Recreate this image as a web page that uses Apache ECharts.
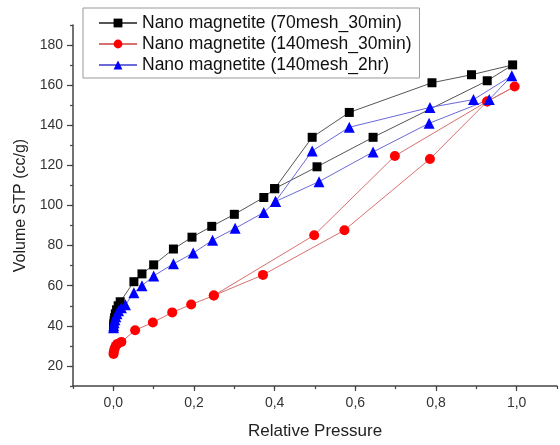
<!DOCTYPE html>
<html>
<head>
<meta charset="utf-8">
<script src="https://cdn.jsdelivr.net/npm/echarts@6/dist/echarts.min.js"></script>
<style>
html,body{margin:0;padding:0;background:#fff;}
#c{width:560px;height:445px;}
</style>
</head>
<body>
<div id="c"></div>
<script>
// Series names
const seriesNames = [
  'Nano magnetite (70mesh_30min)',
  'Nano magnetite (140mesh_30min)',
  'Nano magnetite (140mesh_2hr)'
];
// Major tick values
const xMajorTicks = [0, 0.2, 0.4, 0.6, 0.8, 1.0];
const yMajorTicks = [20, 40, 60, 80, 100, 120, 140, 160, 180];
// Nano magnetite (70mesh_30min): adsorption then desorption
const blackX = [0.0005,0.001,0.002,0.003,0.005,0.008,0.012,0.017,0.051,0.071,0.1,0.149,0.195,0.244,0.3,0.373,0.4,0.505,0.644,0.927,0.99,0.888,0.79,0.585,0.493,0.4];
const blackY = [39.5,41,42.5,44,46,48,50,52,62,65.9,70.4,78.3,84.2,89.6,95.6,104,108.4,119.3,134,162.2,170.1,165.2,161.2,146.4,134,108.4];
// Nano magnetite (140mesh_30min)
const redX = [0.0005,0.001,0.003,0.006,0.01,0.02,0.054,0.098,0.146,0.193,0.249,0.371,0.573,0.785,0.927,0.995,0.927,0.698,0.498,0.249];
const redY = [26,27,28.5,30,31,32,37.8,41.7,46.7,50.6,55.1,65.4,87.7,123.2,151.9,159.3,151.9,124.7,85.2,55.1];
// Nano magnetite (140mesh_2hr)
const blueX = [0.0005,0.001,0.002,0.004,0.006,0.009,0.013,0.02,0.03,0.051,0.071,0.1,0.149,0.198,0.246,0.302,0.373,0.402,0.51,0.644,0.783,0.932,0.988,0.893,0.785,0.585,0.493,0.402];
const blueY = [39,40,41.5,43,44.5,46,47.5,49,50.5,56.5,60,64.9,70.9,76.3,82.7,88.6,96.5,102,111.9,126.7,141,152.8,164.7,152.8,148.9,139,127.2,102];

const pairs = (xs, ys) => xs.map((x, i) => [x, ys[i]]);
const font = '"Liberation Sans", Arial, sans-serif';
const axisColor = '#444';

const chart = echarts.init(document.getElementById('c'), null, {renderer: 'canvas'});
chart.setOption({
  animation: false,
  backgroundColor: '#fff',
  grid: {left: 73, right: -4, top: 25, bottom: 54, containLabel: false},
  legend: {
    orient: 'vertical',
    left: 83, top: 8,
    padding: [6, 8, 4, 15],
    itemWidth: 38, itemHeight: 11, itemGap: 3,
    borderColor: '#999', borderWidth: 1,
    textStyle: {fontFamily: font, fontSize: 17.5, lineHeight: 17, color: '#111'},
    data: seriesNames
  },
  xAxis: [
    {
      type: 'value', min: -0.1, max: 1.1, interval: 0.1,
      name: 'Relative Pressure', nameLocation: 'middle', nameGap: 37,
      nameTextStyle: {fontFamily: font, fontSize: 17, color: '#222'},
      axisLine: {show: true, onZero: false, lineStyle: {color: axisColor, width: 1.5}},
      axisTick: {show: true, inside: false, length: 3, lineStyle: {color: axisColor, width: 1.2}},
      axisLabel: {
        fontFamily: font, fontSize: 14, color: '#333', margin: 10,
        formatter: v => {
          const k = Math.round(v * 10);
          if (k < 0 || k % 2 !== 0) return '';
          return (k / 10).toFixed(1).replace('.', ',');
        }
      },
      splitLine: {show: false}
    },
    {
      type: 'value', min: -0.1, max: 1.1, position: 'bottom',
      axisLine: {show: false, onZero: false},
      axisTick: {show: true, inside: false, length: 5, customValues: xMajorTicks, lineStyle: {color: axisColor, width: 1.2}},
      axisLabel: {show: false},
      splitLine: {show: false}
    }
  ],
  yAxis: [
    {
      type: 'value', min: 10, max: 190, interval: 10,
      name: 'Volume STP (cc/g)', nameLocation: 'middle', nameGap: 44,
      nameTextStyle: {fontFamily: font, fontSize: 16, color: '#222'},
      axisLine: {show: true, onZero: false, lineStyle: {color: axisColor, width: 1.5}},
      axisTick: {show: true, inside: false, length: 3, lineStyle: {color: axisColor, width: 1.2}},
      axisLabel: {
        fontFamily: font, fontSize: 14, color: '#333', margin: 10,
        formatter: v => (Math.round(v) % 20 === 0 && v < 190) ? String(Math.round(v)) : ''
      },
      splitLine: {show: false}
    },
    {
      type: 'value', min: 10, max: 190, position: 'left',
      axisLine: {show: false, onZero: false},
      axisTick: {show: true, inside: false, length: 6, customValues: yMajorTicks, lineStyle: {color: axisColor, width: 1.2}},
      axisLabel: {show: false},
      splitLine: {show: false}
    }
  ],
  series: [
    {
      name: seriesNames[0], type: 'line', data: pairs(blackX, blackY),
      symbol: 'rect', symbolSize: 9,
      itemStyle: {color: '#000'},
      lineStyle: {color: '#555', width: 1}
    },
    {
      name: seriesNames[1], type: 'line', data: pairs(redX, redY),
      symbol: 'circle', symbolSize: 10,
      itemStyle: {color: '#ff0000'},
      lineStyle: {color: '#d87070', width: 1}
    },
    {
      name: seriesNames[2], type: 'line', data: pairs(blueX, blueY),
      symbol: 'triangle', symbolSize: 11,
      itemStyle: {color: '#0000ff'},
      lineStyle: {color: '#6a6ad8', width: 1}
    }
  ]
});
</script>
</body>
</html>
